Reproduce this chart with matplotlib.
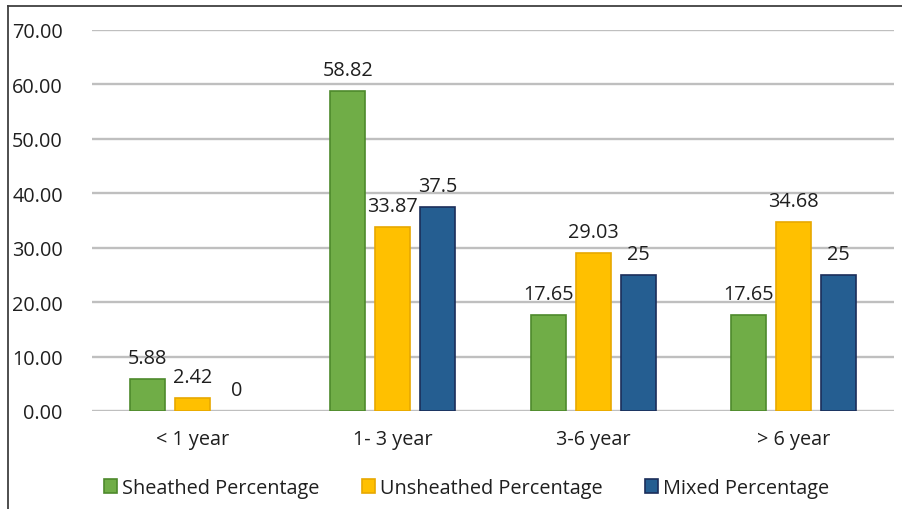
import matplotlib
matplotlib.use("Agg")
import matplotlib.pyplot as plt
from matplotlib.lines import Line2D
from matplotlib.patches import Patch
import numpy as np

plt.rcParams['font.family'] = ['Open Sans', 'DejaVu Sans']

categories = ["< 1 year", "1- 3 year", "3-6 year", "> 6 year"]
series_names = ["Sheathed Percentage", "Unsheathed Percentage", "Mixed Percentage"]
sheathed = [5.88, 58.82, 17.65, 17.65]
unsheathed = [2.42, 33.87, 29.03, 34.68]
mixed = [0, 37.5, 25, 25]
label_text = [
    ["5.88", "58.82", "17.65", "17.65"],
    ["2.42", "33.87", "29.03", "34.68"],
    ["0", "37.5", "25", "25"],
]
y_ticks = [0, 10, 20, 30, 40, 50, 60, 70]

face_colors = ["#70AD47", "#FFC000", "#255E91"]
edge_colors = ["#4E8A2C", "#E8A800", "#1B2E5A"]
text_color = "#1F1F1F"
fs = 14.3

W, H = 903, 510
fig = plt.figure(figsize=(W / 100, H / 100), dpi=100)
ax = fig.add_axes([92 / W, (H - 412) / H, (894 - 92) / W, (412 - 31) / H])

x = np.arange(len(categories))
bar_w = 0.175
step = 0.224
for i, vals in enumerate([sheathed, unsheathed, mixed]):
    pos = x + (i - 1) * step
    lw = [1.2 if v > 0 else 0 for v in vals]
    ax.bar(pos, vals, width=bar_w, color=face_colors[i], edgecolor=edge_colors[i],
           linewidth=lw, zorder=3)
    for p, v, t in zip(pos, vals, label_text[i]):
        ax.annotate(t, (p, v), xytext=(0, 11.5), textcoords="offset points",
                    ha="center", va="baseline", fontsize=fs, color=text_color, zorder=4)

ax.set_xlim(-0.5, len(categories) - 0.5)
ax.set_ylim(0, 70)
ax.set_yticks(y_ticks)
ax.set_yticklabels([f"{v:.2f}" for v in y_ticks])
ax.set_xticks(x)
ax.set_xticklabels(categories)
ax.tick_params(axis="y", length=0, pad=21, labelsize=fs, labelcolor=text_color)
ax.tick_params(axis="x", length=0, pad=13, labelsize=fs, labelcolor=text_color)
ax.yaxis.grid(True, color="#BFBFBF", linewidth=1.7, zorder=0)
ax.set_axisbelow(True)
for s in ax.spines.values():
    s.set_visible(False)

handles = [Patch(facecolor=face_colors[i], edgecolor=edge_colors[i], linewidth=1.2)
           for i in range(3)]
fig.legend(handles, series_names, loc="center", bbox_to_anchor=(0.5 + 15 / W, 21 / H),
           ncol=3, frameon=False, fontsize=fs, handlelength=0.65, handleheight=0.65,
           handletextpad=0.25, columnspacing=2.15, labelcolor=text_color)

# outer frame lines on the left and top edges
fig.add_artist(Line2D([8 / W, 8 / W], [0, 1 - 7 / H], transform=fig.transFigure,
                      color="#404040", linewidth=1.3))
fig.add_artist(Line2D([8 / W, 1], [1 - 7 / H, 1 - 7 / H], transform=fig.transFigure,
                      color="#404040", linewidth=1.3))

fig.savefig("out.png", dpi=100, facecolor="white")
